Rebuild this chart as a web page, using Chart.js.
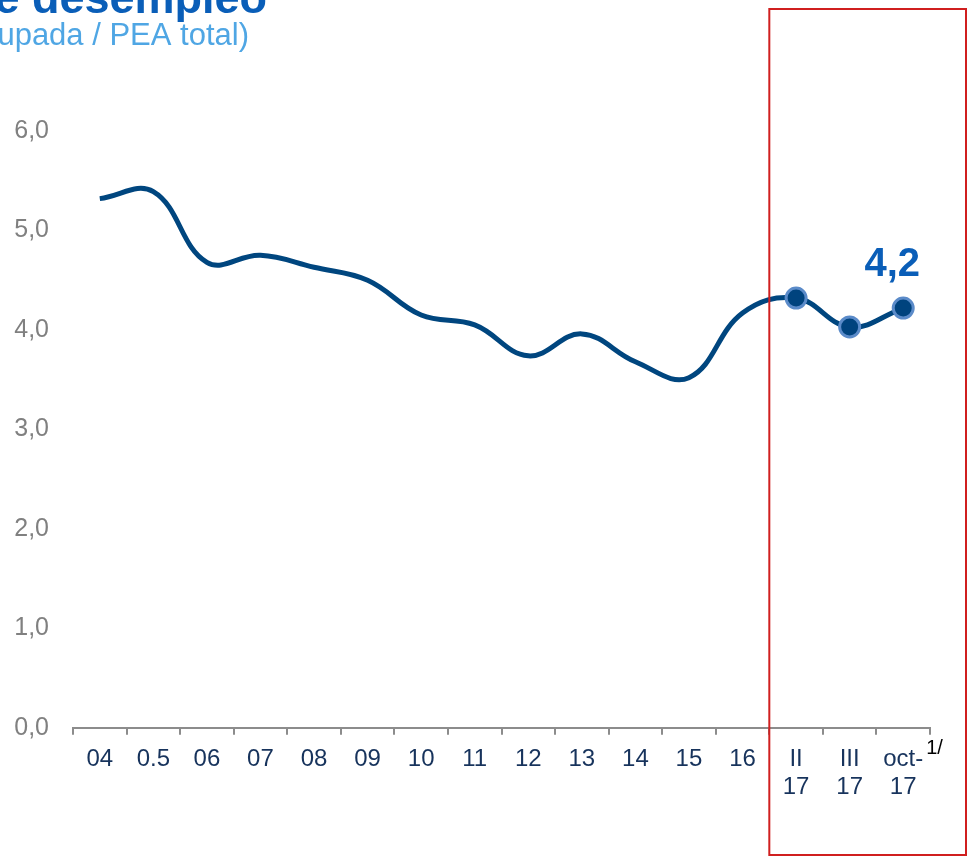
<!DOCTYPE html>
<html>
<head>
<meta charset="utf-8">
<script src="https://cdn.jsdelivr.net/npm/chart.js@4"></script>
<style>
  html, body { margin: 0; padding: 0; background: #fff; }
  #wrap { width: 971px; height: 857px; position: relative; }
</style>
</head>
<body>
<div id="wrap"><canvas id="chart"></canvas></div>
<script>
const categories = ['04', '0.5', '06', '07', '08', '09', '10', '11', '12', '13', '14', '15', '16', ['II', '17'], ['III', '17'], ['oct-', '17']];
const desempleo = [5.32, 5.39, 4.68, 4.75, 4.63, 4.50, 4.15, 4.05, 3.74, 3.96, 3.68, 3.52, 4.17, 4.32, 4.03, 4.22];
const yTicks = [0, 1, 2, 3, 4, 5, 6];
const titleText = 'Tasa de desempleo';
const subtitleText = '(% población desocupada / PEA total)';
const firstMarked = 13; // points from II-17 on

const fmt = (v) => v.toFixed(1).replace('.', ',');
const FONT = '"Liberation Sans", Arial, sans-serif';

// title, red box, value label and the 1/ note
const extras = {
    id: 'extras',
    afterDraw(chart) {
        const ctx = chart.ctx;
        const x = chart.scales.x;
        const meta = chart.getDatasetMeta(0);
        ctx.save();
        ctx.textBaseline = 'alphabetic';
        ctx.textAlign = 'right';
        ctx.fillStyle = '#0A5EB8';
        ctx.font = 'bold 45px ' + FONT;
        ctx.fillText(titleText, 267, 13);
        ctx.fillStyle = '#4FA6E4';
        ctx.font = '31px ' + FONT;
        ctx.fillText(subtitleText, 249, 45);

        // red frame around the 2017 points
        const left = (x.getPixelForValue(firstMarked - 1) + x.getPixelForValue(firstMarked)) / 2;
        ctx.strokeStyle = '#D01F1F';
        ctx.lineWidth = 2;
        ctx.strokeRect(left, 9, 966 - left, 846);

        // value label on the last point
        const last = meta.data[meta.data.length - 1];
        ctx.textAlign = 'center';
        ctx.fillStyle = '#0A5EB8';
        ctx.font = 'bold 40px ' + FONT;
        ctx.fillText(fmt(desempleo[desempleo.length - 1]), last.x - 11, last.y - 32);

        // footnote mark
        ctx.textAlign = 'left';
        ctx.fillStyle = '#000';
        ctx.font = '20px ' + FONT;
        ctx.fillText('1/', last.x + 23, chart.chartArea.bottom + 26);
        ctx.restore();
    }
};

const ctx = document.getElementById('chart').getContext('2d');
new Chart(ctx, {
    type: 'line',
    data: {
        labels: categories,
        datasets: [{
            data: desempleo,
            borderColor: '#00467F',
            borderWidth: 5,
            tension: 0.4,
            fill: false,
            pointRadius: desempleo.map((v, i) => (i >= firstMarked ? 10 : 0)),
            pointBackgroundColor: '#00437E',
            pointBorderColor: '#5B8BC9',
            pointBorderWidth: 3,
        }]
    },
    options: {
        responsive: true,
        maintainAspectRatio: false,
        animation: false,
        layout: { padding: { top: 131, right: 41, bottom: 45, left: 14 } },
        plugins: {
            legend: { display: false },
            tooltip: { enabled: false },
        },
        scales: {
            x: {
                offset: true,
                grid: {
                    offset: true,
                    drawOnChartArea: false,
                    drawTicks: true,
                    tickLength: 7,
                    color: '#8C8C8C',
                    lineWidth: 2,
                },
                border: { display: true, color: '#8C8C8C', width: 2 },
                ticks: {
                    color: '#17335C',
                    font: { family: FONT, size: 24, lineHeight: 1.15 },
                    maxRotation: 0,
                    autoSkip: false,
                    padding: 11,
                },
            },
            y: {
                min: 0,
                max: 6,
                afterBuildTicks: (axis) => { axis.ticks = yTicks.map((v) => ({ value: v })); },
                afterFit: (axis) => { axis.width = 59; },
                grid: { display: false, drawTicks: false },
                border: { display: false },
                ticks: {
                    color: '#808080',
                    font: { family: FONT, size: 25 },
                    padding: 24,
                    callback: (v) => fmt(v),
                },
            },
        },
    },
    plugins: [extras],
});
</script>
</body>
</html>
